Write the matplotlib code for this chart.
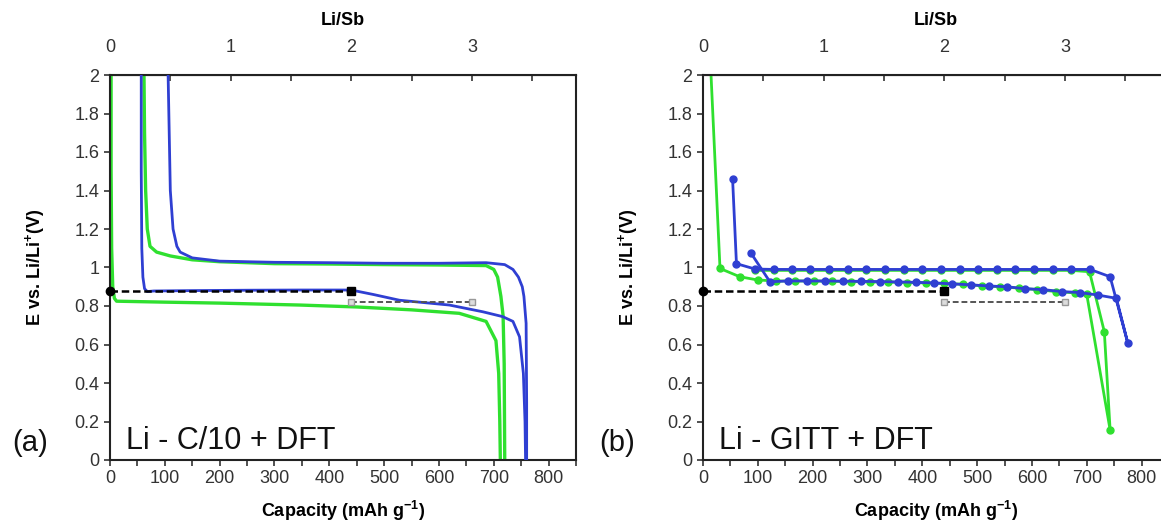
import matplotlib.pyplot as plt
import numpy as np
from matplotlib.ticker import MultipleLocator, FixedLocator, FuncFormatter

plt.rcParams['font.family'] = ['Liberation Sans', 'DejaVu Sans']
plt.rcParams['mathtext.fontset'] = 'custom'
plt.rcParams['mathtext.rm'] = 'Liberation Sans'
plt.rcParams['mathtext.bf'] = 'Liberation Sans:bold'

GREEN = '#2fe02f'
BLUE = '#2f3fd2'
MAH_PER_LI = 220.1  # mAh/g per Li in Sb

# (a) Li - C/10, continuous curves
a_green_dis_cap = [2, 2, 3, 5, 8, 12, 100, 200, 346, 450, 550, 637, 686, 704, 709, 711, 712]
a_green_dis_E = [2.0, 1.5, 1.1, 0.9, 0.84, 0.825, 0.82, 0.815, 0.805, 0.795, 0.78, 0.762, 0.72, 0.62, 0.45, 0.2, 0.0]
a_green_chg_cap = [720, 719, 717, 713, 707, 700, 686, 600, 500, 400, 300, 200, 150, 110, 85, 73, 68, 65, 63, 62]
a_green_chg_E = [0.0, 0.5, 0.75, 0.85, 0.95, 0.99, 1.01, 1.013, 1.015, 1.018, 1.02, 1.03, 1.04, 1.06, 1.08, 1.11, 1.2, 1.4, 1.7, 2.0]
a_blue_dis_cap = [57, 57, 58, 60, 63, 68, 80, 150, 250, 350, 440, 480, 528, 619, 680, 716, 735, 747, 754, 757, 758]
a_blue_dis_E = [2.0, 1.5, 1.1, 0.95, 0.89, 0.875, 0.878, 0.88, 0.882, 0.883, 0.883, 0.86, 0.83, 0.805, 0.77, 0.745, 0.72, 0.64, 0.45, 0.2, 0.0]
a_blue_chg_cap = [760, 760, 759, 755, 752, 745, 735, 720, 686, 600, 500, 400, 300, 200, 150, 128, 122, 115, 110, 108, 106]
a_blue_chg_E = [0.0, 0.3, 0.71, 0.85, 0.9, 0.95, 0.99, 1.015, 1.025, 1.022, 1.022, 1.025, 1.027, 1.033, 1.05, 1.08, 1.11, 1.2, 1.4, 1.7, 2.0]

# (b) Li - GITT, relaxed points
b_green_cap = [0, 31, 67, 100, 134, 168, 202, 236, 270, 304, 338, 372, 406, 440, 474, 508, 542, 576, 610, 644, 678, 700, 742.6,
               732, 705, 672, 638, 604, 570, 536, 502, 468, 434, 400, 366, 332, 298, 264, 230, 196, 162, 129, 95]
b_green_E = [2.9, 0.995, 0.952, 0.935, 0.93, 0.93, 0.93, 0.928, 0.927, 0.925, 0.924, 0.922, 0.92, 0.917, 0.913, 0.905, 0.9, 0.893, 0.885, 0.875, 0.868, 0.86, 0.156,
             0.667, 0.978, 0.985, 0.985, 0.985, 0.985, 0.985, 0.985, 0.985, 0.985, 0.985, 0.985, 0.985, 0.985, 0.985, 0.985, 0.985, 0.985, 0.985, 0.985]
b_blue_cap = [87, 122, 155, 189, 222, 255, 288, 322, 355, 388, 421, 455, 488, 521, 554, 587, 621, 654, 687, 720, 754, 775,
              742.6, 706, 672, 638, 604, 570, 536, 502, 468, 434, 400, 366, 332, 298, 264, 230, 196, 162, 129, 95, 61, 54]
b_blue_E = [1.077, 0.926, 0.93, 0.93, 0.93, 0.929, 0.928, 0.927, 0.925, 0.923, 0.92, 0.915, 0.91, 0.904, 0.9, 0.89, 0.885, 0.875, 0.87, 0.857, 0.84, 0.606,
            0.952, 0.99, 0.99, 0.99, 0.99, 0.99, 0.99, 0.99, 0.99, 0.99, 0.99, 0.99, 0.99, 0.99, 0.99, 0.99, 0.99, 0.99, 0.99, 0.992, 1.02, 1.458]

# DFT steps
dft1_cap = [0, 440]
dft1_E = [0.88, 0.88]
dft2_cap = [440, 660]
dft2_E = [0.82, 0.82]

top_major = [0, 1, 2, 3]
top_minor = [0.5, 1.5, 2.5, 3.5]

fig = plt.figure(figsize=(11.61, 5.25), dpi=100)
W, H = 1161, 525
ax_a = fig.add_axes([110 / W, 65 / H, 466 / W, 385 / H])
ax_b = fig.add_axes([703 / W, 65 / H, 466 / W, 385 / H])


def style(ax, tag, text):
    ax.set_xlim(0, 850)
    ax.set_ylim(0, 2)
    ax.xaxis.set_major_locator(MultipleLocator(100))
    ax.xaxis.set_minor_locator(MultipleLocator(50))
    ax.yaxis.set_major_locator(MultipleLocator(0.2))
    ax.yaxis.set_major_formatter(FuncFormatter(lambda v, p: f'{v:g}'))
    ax.tick_params(axis='both', which='both', direction='out', length=4, width=1.2,
                   labelsize=13, labelcolor='#333333', colors='#333333')
    ax.tick_params(axis='x', which='minor', length=4)
    ax.tick_params(axis='y', which='both', right=False)
    for s in ax.spines.values():
        s.set_linewidth(1.5)
        s.set_color('#222222')
    ax.set_xlabel('Capacity (mAh g$^{\\mathbf{-1}}$)', fontsize=13, fontweight='bold', labelpad=8)
    ax.set_ylabel('E vs. Li/Li$^{\\mathbf{+}}$(V)', fontsize=13, fontweight='bold', labelpad=20)
    top = ax.secondary_xaxis('top', functions=(lambda c: c / MAH_PER_LI, lambda x: x * MAH_PER_LI))
    top.xaxis.set_major_locator(FixedLocator(top_major))
    top.xaxis.set_minor_locator(FixedLocator(top_minor))
    top.xaxis.set_major_formatter(FuncFormatter(lambda v, p: f'{v:g}'))
    top.tick_params(which='both', direction='in', length=4, width=1.2, labelsize=13, pad=14,
                    labelcolor='#333333', colors='#333333')
    top.set_xlabel('Li/Sb', fontsize=13, fontweight='bold', labelpad=10)
    ax.text(0.035, 0.05, text, transform=ax.transAxes, fontsize=22, color='#111111', va='center')
    ax.text(tag[1], 0.045, tag[0], transform=ax.transAxes, fontsize=21, color='#111111', va='center')


def dft(ax):
    ax.plot(dft1_cap, dft1_E, color='black', ls=(0, (3, 1.5)), lw=1.8, zorder=5)
    ax.plot(dft1_cap[0], dft1_E[0], 'o', color='black', ms=6, zorder=6, clip_on=False)
    ax.plot(dft1_cap[1], dft1_E[1], 's', color='black', ms=6, zorder=6)
    ax.plot(dft2_cap, dft2_E, color='#555555', ls=(0, (3, 1.5)), lw=1.4, zorder=5)
    ax.plot(dft2_cap, dft2_E, 's', mfc='#dddddd', mec='#999999', ms=5, zorder=6)


# (a)
ax_a.plot(a_green_dis_cap, a_green_dis_E, color=GREEN, lw=2.4, zorder=2)
ax_a.plot(a_green_chg_cap, a_green_chg_E, color=GREEN, lw=2.4, zorder=2)
ax_a.plot(a_blue_dis_cap, a_blue_dis_E, color=BLUE, lw=2.0, zorder=3)
ax_a.plot(a_blue_chg_cap, a_blue_chg_E, color=BLUE, lw=2.0, zorder=3)
dft(ax_a)
style(ax_a, ('(a)', -0.21), 'Li - C/10 + DFT')

# (b)
ax_b.plot(b_green_cap, b_green_E, '-o', color=GREEN, lw=2.0, ms=5, zorder=2)
ax_b.plot(b_blue_cap, b_blue_E, '-o', color=BLUE, lw=2.0, ms=5, zorder=3)
dft(ax_b)
style(ax_b, ('(b)', -0.222), 'Li - GITT + DFT')

plt.savefig('out.png', dpi=100)
